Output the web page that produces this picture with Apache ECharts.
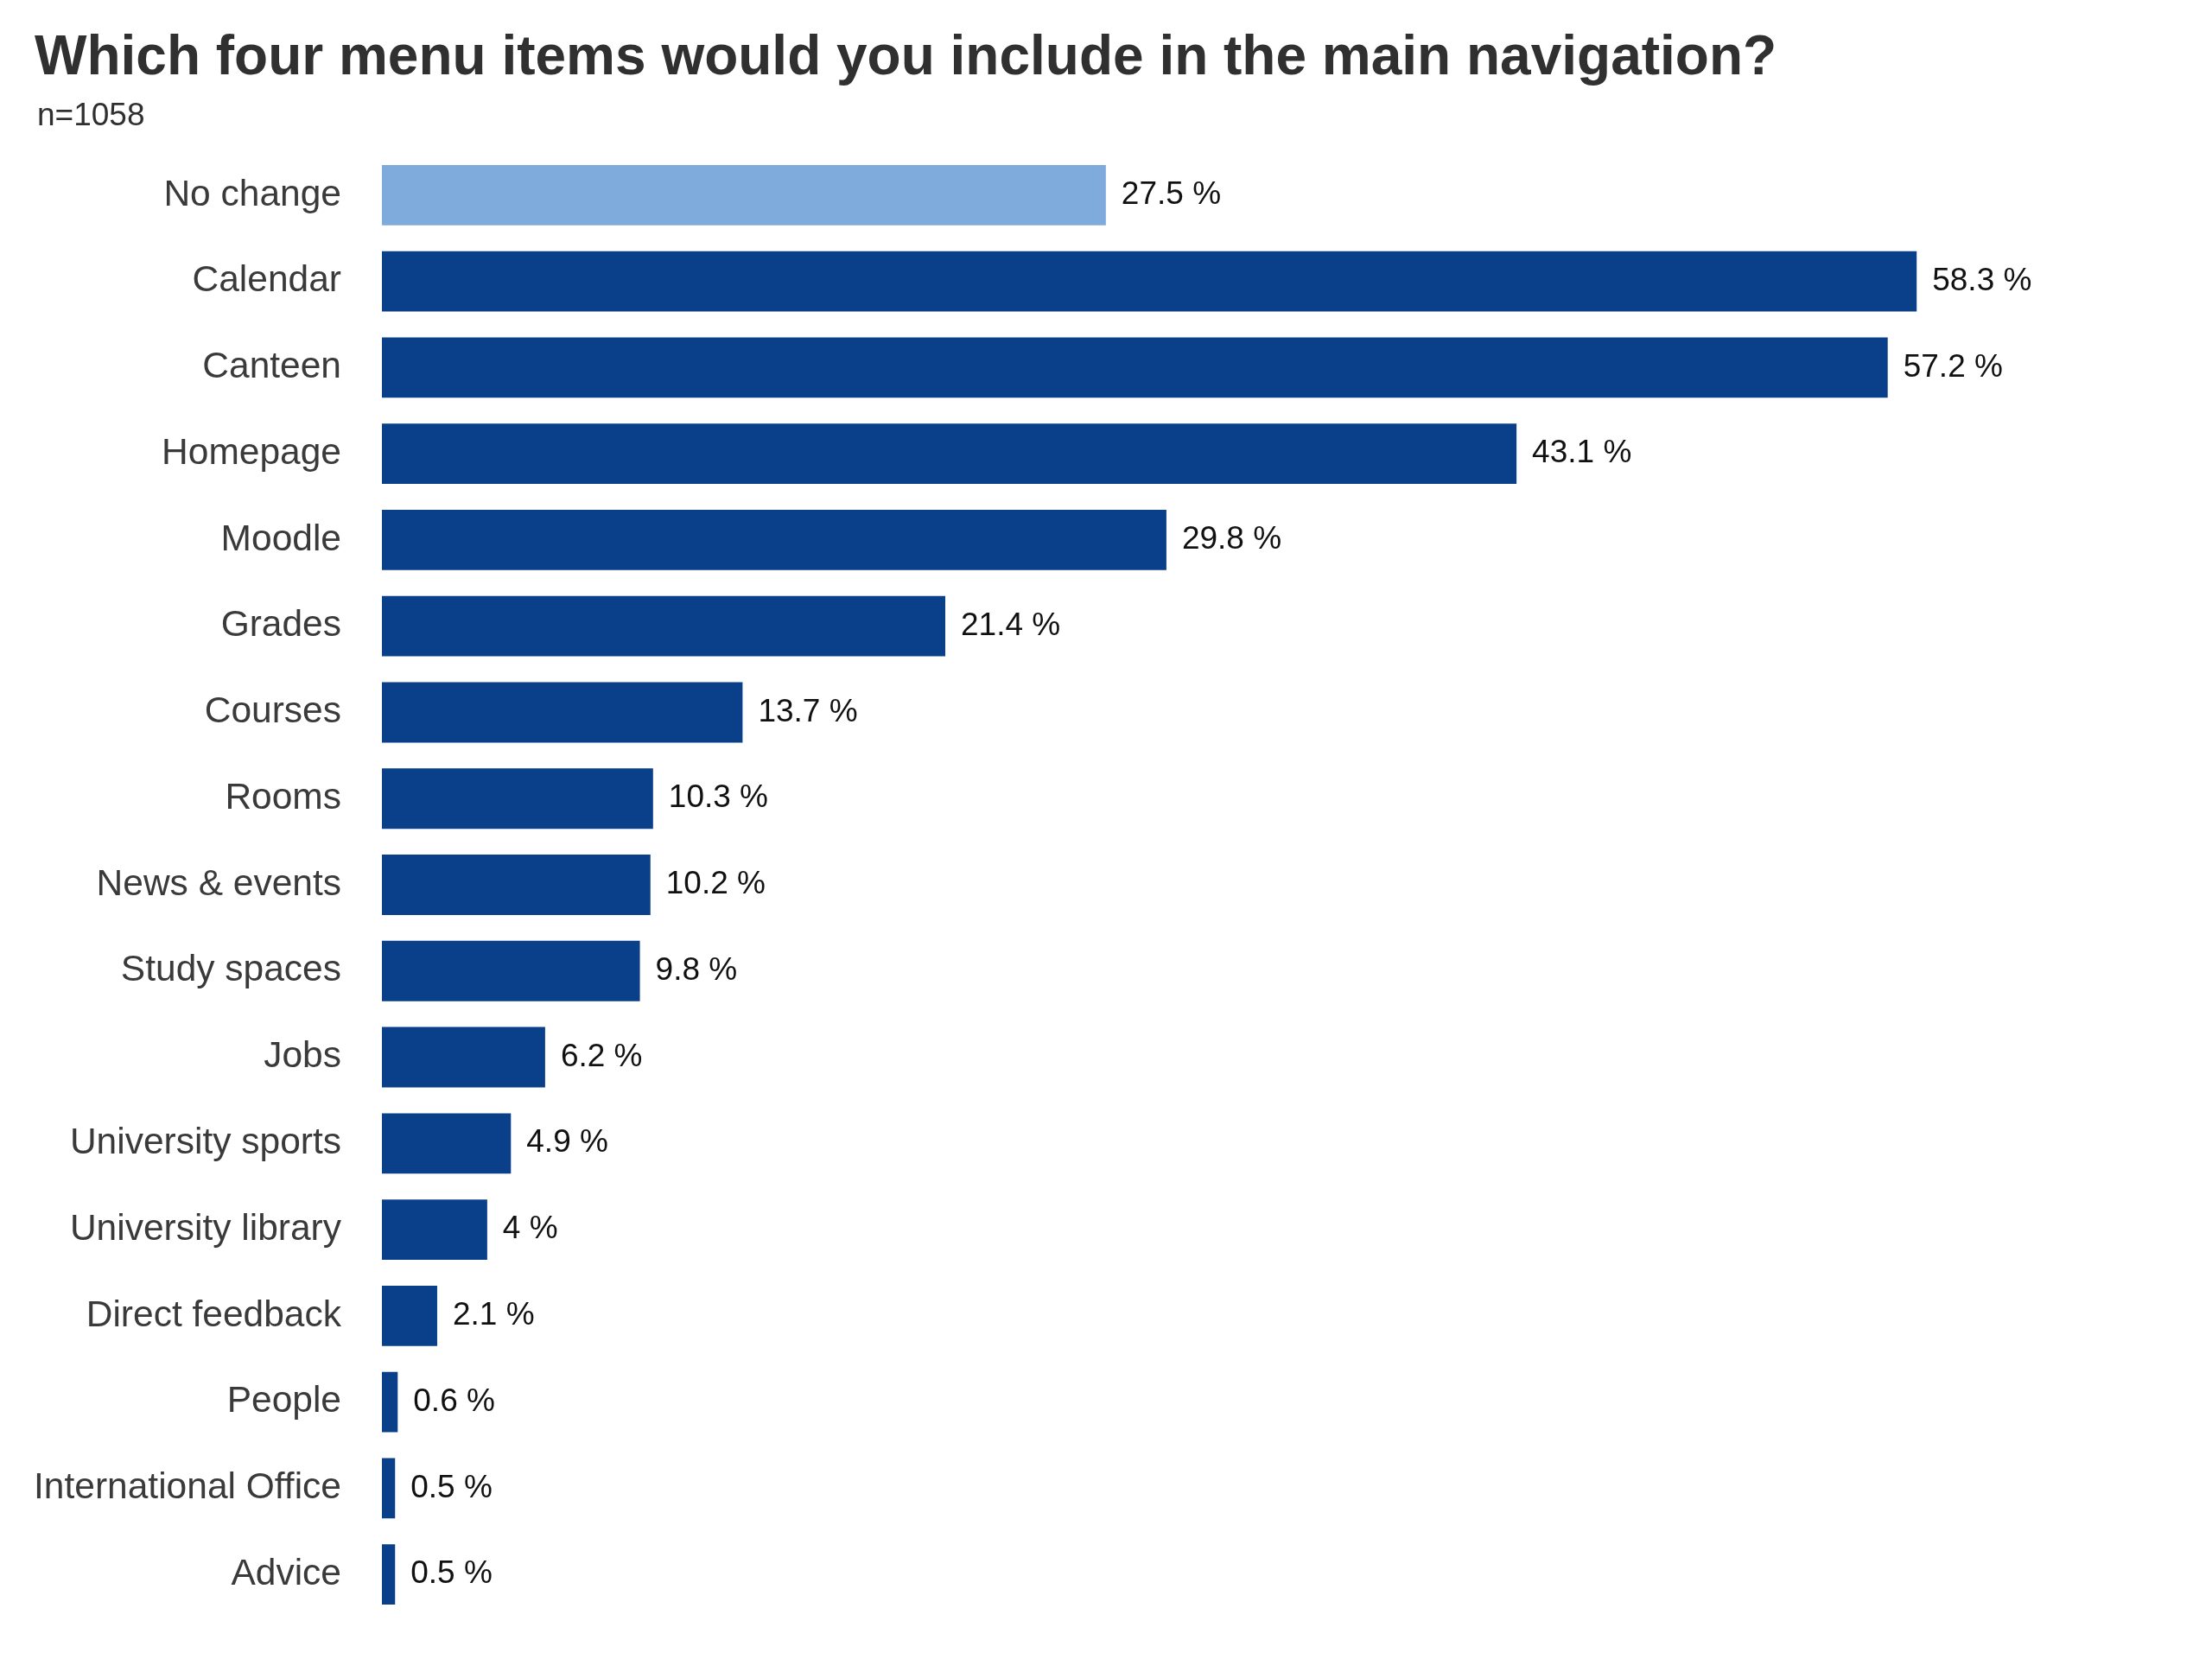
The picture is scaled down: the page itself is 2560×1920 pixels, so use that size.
<!DOCTYPE html>
<html>
<head>
<meta charset="utf-8">
<script src="https://cdn.jsdelivr.net/npm/echarts@6/dist/echarts.min.js"></script>
<style>
html,body{margin:0;padding:0;background:#fff;}
#chart{width:2560px;height:1920px;}
</style>
</head>
<body>
<div id="chart"></div>
<script>
const titleText = "Which four menu items would you include in the main navigation?";
const subtitleText = "n=1058";
const categories = ["No change","Calendar","Canteen","Homepage","Moodle","Grades","Courses","Rooms","News & events","Study spaces","Jobs","University sports","University library","Direct feedback","People","International Office","Advice"];
const values = [27.5,58.3,57.2,43.1,29.8,21.4,13.7,10.3,10.2,9.8,6.2,4.9,4,2.1,0.6,0.5,0.5];
const highlighted = ["No change"];

const FONT = "'Liberation Sans', Arial, Helvetica, sans-serif";
const DARK = "#0A3F8A";
const LIGHT = "#7FAADC";

const chart = echarts.init(document.getElementById('chart'), null, {renderer: 'canvas'});
const data = categories.map((c, i) => ({
  value: values[i],
  itemStyle: {color: highlighted.includes(c) ? LIGHT : DARK}
}));

chart.setOption({
  backgroundColor: '#ffffff',
  animation: false,
  title: [
    {text: titleText, left: 35, top: 31,
     textStyle: {fontFamily: FONT, fontSize: 64, fontWeight: 'bold', color: '#303030', lineHeight: 64}},
    {text: subtitleText, left: 38, top: 111,
     textStyle: {fontFamily: FONT, fontSize: 37, fontWeight: 'normal', color: '#303030', lineHeight: 37}}
  ],
  grid: {left: 442, top: 176, width: 1828, height: 1696, containLabel: false},
  xAxis: {
    type: 'value', min: 0, max: 60,
    show: false
  },
  yAxis: {
    type: 'category',
    data: categories,
    inverse: true,
    axisLine: {show: false},
    axisTick: {show: false},
    splitLine: {show: false},
    axisLabel: {fontFamily: FONT, fontSize: 42.5, color: '#3a3a3a', margin: 47}
  },
  series: [{
    type: 'bar',
    data: data,
    barCategoryGap: '30%',
    label: {
      show: true, position: 'right', distance: 18,
      fontFamily: FONT, fontSize: 37, color: '#111111',
      formatter: p => p.value + ' %'
    }
  }]
});
</script>
</body>
</html>
